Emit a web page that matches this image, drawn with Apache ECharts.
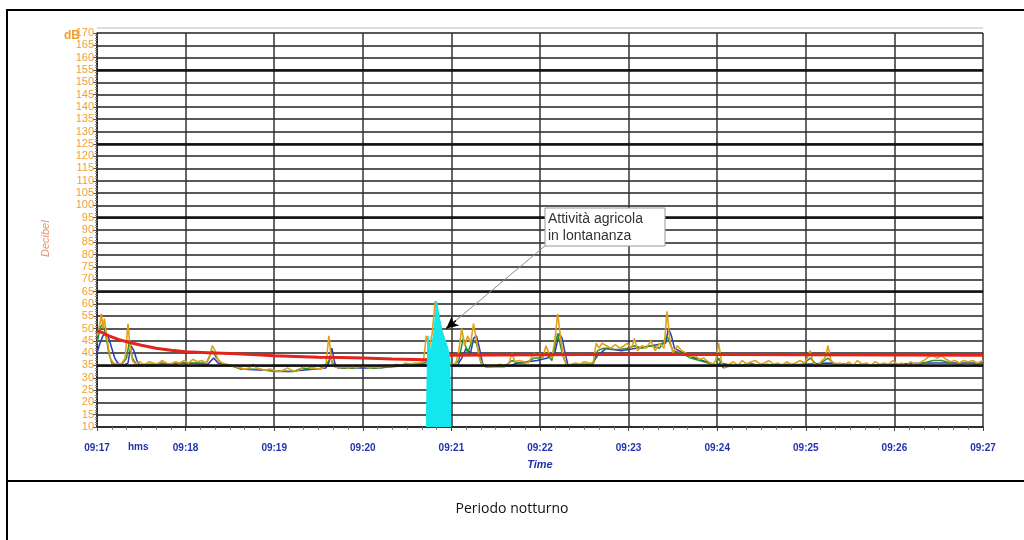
<!DOCTYPE html>
<html>
<head>
<meta charset="utf-8">
<script src="https://cdn.jsdelivr.net/npm/echarts@6/dist/echarts.min.js"></script>
<style>
html,body{margin:0;padding:0;background:#fff;}
#c{width:1024px;height:540px;}
</style>
</head>
<body>
<div id="c"></div>
<script>
// ---- data (seconds from 09:17:00, dB) ----
const timeLabels = ['09:17','09:18','09:19','09:20','09:21','09:22','09:23','09:24','09:25','09:26','09:27'];

const orangeSeries = [[0,47],[2,52],[3,56],[4,50],[5,54],[7,45],[9,38],[11,36],[14,35.5],[17,36],[19,38],[21,52],[22,45],[24,37],[26,35.5],[29,36.5],[32,35],[35,36.5],[38,36],[41,35.5],[44,37],[47,36],[50,35.5],[53,36.5],[56,36],[59,37],
[62,36],[65,37.5],[68,36.5],[71,37],[74,36],[76,38],[78,43],[80,41],[82,37],[85,36],[88,35.5],[91,35],[94,34.5],[97,34],[100,33.5],[103,34],[106,35.5],[108,34],[111,33.5],[114,33],[117,33.5],
[120,33],[123,32.5],[126,33],[129,34],[132,33],[135,32.5],[138,33.5],[141,35],[144,34],[147,34],[150,33.5],[153,34],[155,35],[157,47],[159,36],[161,34.5],[164,34],[167,34.5],[170,34],[173,34.5],[176,34],[179,35],
[182,34.5],[185,34],[188,34.5],[191,34],[194,35],[197,34.5],[200,35],[203,35.5],[206,35],[209,36],[212,35.5],[215,36],[218,36],[221,36.5],[223,47],[225,42],[227,48],[229,61],[231,55],[233,50],[235,46],[237,42],[239,36],[241,35],
[243,36],[245,41],[247,50],[249,43],[251,47],[253,44],[255,52],[257,45],[259,38],[261,35.5],[264,35],[267,34.5],[270,35],[273,35.5],[276,35],[279,36],[281,40],[283,36.5],[286,37],[289,36.5],[292,36],[294,38],[296,40],[298,39],
[300,40],[302,38],[304,43],[306,40],[308,38],[310,45],[312,56],[314,46],[316,38],[318,35],[321,35.5],[324,36],[327,35.5],[330,36.5],[333,36],[336,36],[338,44],[340,42],[342,44],[345,43],[348,42],[351,43.5],[354,42],[357,43],[359,44],
[362,42],[364,46],[366,41],[369,43],[372,42],[375,45],[378,41],[381,44],[384,42],[386,57],[388,45],[390,40],[393,43],[396,41],[399,40],[402,38.5],[405,39],[408,37.5],[411,38],[414,36.5],[417,35.5],[419,37],
[421,44],[423,36],[425,34],[428,35.5],[431,36.5],[434,35],[437,37],[440,35.5],[443,36.5],[446,37],[449,35.5],[452,36],[455,37],[458,35.5],[461,36],[464,35],[467,36.5],[470,35.5],[473,36],[476,37],[479,36],
[481,38],[483,41],[485,36],[488,35],[491,37],[493,38],[495,43],[497,37],[500,35.5],[503,36],[506,35],[509,36.5],[512,35],[515,37],[518,35.5],[521,36],[524,35],[527,36.5],[530,35.5],[533,36],[536,35.5],[539,37],
[542,35.5],[545,36],[548,35],[551,36.5],[554,35.5],[557,36],[560,37],[563,38.5],[566,39],[569,38],[572,39],[575,37.5],[578,36.5],[581,37],[584,36],[587,37],[590,36.5],[593,37],[596,36],[600,37]];

const greenSeries = [[0,44],[2,50],[4,52],[6,47],[8,40],[10,36],[13,35],[17,35.5],[20,38],[22,45],[24,38],[27,35],[32,35.5],[38,35.5],[44,36],[50,35],[56,36],[62,36],[68,36],[74,36],[78,41],[81,38],[85,35.5],[91,35],[97,33.5],[103,33.5],[109,33.5],[115,33],[121,32.5],[127,32.5],[133,32.5],[139,34],[145,33.5],[151,33.5],[156,36],[158,38],[161,34.5],[167,34],[173,34],[179,34.5],[185,34],[191,34],[197,34.5],[203,35],[209,35.5],[215,35.5],[221,36],[226,37],[235,38],[241,35],[245,37],[248,46],[251,40],[254,45],[257,44],[260,36],[264,34.5],[270,34.5],[276,34.5],[281,37],[285,36],[290,36],[296,38],[300,38],[304,40],[308,37],[312,48],[315,40],[318,35],[324,35.5],[330,35.5],[336,35.5],[339,41],[343,42],[348,41.5],[354,41.5],[359,42],[364,43],[369,42],[375,43],[381,42],[386,47],[390,41],[396,40],[402,38],[408,37],[414,36],[419,35],[421,38],[424,34],[430,35],[436,35],[442,36],[448,35],[454,35.5],[460,35],[466,35.5],[472,35],[478,35.5],[483,38],[488,35],[495,38],[500,35],[506,35],[512,35],[518,35.5],[524,35],[530,35],[536,35],[542,35],[548,35],[554,35],[560,36],[566,37],[572,37],[578,36],[584,35.5],[590,36],[596,35.5],[600,36]];

const blueSeries = [[0,40],[2,44],[4,47],[6,48],[8,46],[10,42],[12,38],[14,36],[18,35],[21,36],[23,43],[25,41],[27,37],[29,35],[40,35.5],[60,36],[75,35.5],[79,38],[82,36],[100,33.5],[130,32.5],[155,34],[157,36],[159,42],[161,36],[163,34],[190,34],[220,35.5],[244,35],[247,38],[250,42],[253,40],[255,46],[257,47],[259,42],[261,36],[263,34.5],[280,35],[285,36],[298,37],[305,38],[310,40],[313,48],[315,46],[317,40],[319,35],[335,35.5],[339,39],[345,42],[355,41],[365,42],[375,43],[385,44],[387,50],[389,47],[391,42],[400,39],[410,37],[420,35],[422,36],[430,35],[480,35.5],[495,36],[520,35],[560,36],[600,36]];

const redSeries = [[0,49],[3,48.5],[8,47],[15,45.5],[22,44.3],[30,43.2],[40,42],[50,41.2],[60,40.6],[75,40.2],[90,39.8],[105,39.4],[120,38.9],[135,38.6],[150,38.3],[165,38.2],[180,38],[200,37.6],[222,37.3],[229,37.5],[235,38.6],[240,39.1],[270,39.2],[300,39.3],[360,39.5],[420,39.4],[480,39.3],[540,39.2],[600,39.1]];

const cyanEvent = [[223,10],[224,47],[226,41],[228,48],[230,61],[232,54],[234,48],[236,45],[238,41],[239,38],[239.5,10]];

const heavyGrid = [35,65,95,125,155];
const annotation = ['Attività agricola', 'in lontananza'];
const caption = 'Periodo notturno';

// ---- chart ----
const chart = echarts.init(document.getElementById('c'), null, {renderer:'canvas'});
const narrow = "'Liberation Sans Narrow','Liberation Sans',Arial,sans-serif";
const lineSer = (data, color, w, z) => ({
  type:'line', data, showSymbol:false, symbol:'none', z,
  lineStyle:{color, width:w}, itemStyle:{color}, animation:false, silent:true
});

chart.setOption({
  animation:false,
  backgroundColor:'#fff',
  grid:{left:97, right:41, top:33, bottom:113, containLabel:false},
  xAxis:{
    type:'value', min:0, max:600, interval:60,
    name:'Time', nameLocation:'middle', nameGap:32,
    nameTextStyle:{color:'#2233aa', fontStyle:'italic', fontWeight:'bold', fontSize:11, fontFamily:"'Liberation Sans',Arial,sans-serif"},
    axisLine:{lineStyle:{color:'#222', width:1.5}},
    axisTick:{show:true, length:4, lineStyle:{color:'#444'}},
    minorTick:{show:true, splitNumber:6, length:3, lineStyle:{color:'#777'}},
    axisLabel:{formatter:v => timeLabels[Math.round(v/60)] || '', color:'#2233aa', fontWeight:'bold', fontSize:10, fontFamily:narrow, margin:16},
    splitLine:{show:true, lineStyle:{color:'#333', width:1.5}}
  },
  yAxis:{
    type:'value', min:10, max:170, interval:5,
    axisLine:{show:true, lineStyle:{color:'#222', width:1.5}},
    axisTick:{show:true, length:4, lineStyle:{color:'#555'}},
    minorTick:{show:true, splitNumber:5, length:2, lineStyle:{color:'#888'}},
    axisLabel:{color:'#f2a02a', fontSize:11, fontFamily:narrow, margin:3},
    splitLine:{show:true, lineStyle:{color:'#222', width:1.5}}
  },
  series:[
    {type:'line', data:[], silent:true, z:1,
      markLine:{silent:true, symbol:'none', label:{show:false}, animation:false,
        lineStyle:{color:'#111', width:2.6, type:'solid'},
        data: heavyGrid.map(v => ({yAxis:v}))}},
    lineSer(blueSeries, '#2b3bb5', 1.5, 2),
    lineSer(greenSeries, '#2f8f2a', 1.5, 3),
    lineSer(orangeSeries, '#e0a01c', 1.6, 4),
    lineSer(redSeries, '#e3241d', 3, 5),
    {type:'line', data:cyanEvent, showSymbol:false, symbol:'none', z:6, silent:true,
      lineStyle:{color:'#14e6ee', width:1}, areaStyle:{color:'#14e6ee', opacity:1, origin:'start'},
      markLine:{silent:true, animation:false, label:{show:false},
        data:[
          [{coord:[303.3,83.5], symbol:'none', lineStyle:{color:'#8a8a8a', width:1, type:'solid'}},
           {coord:[237,50.2], symbol:'none'}],
          [{coord:[243,53.2], symbol:'none', lineStyle:{color:'#000', width:1.5, type:'solid'}},
           {coord:[236.5,50], symbol:'arrow', symbolSize:[9,12]}]
        ]}}
  ],
  graphic:[
    {type:'rect', shape:{x:7, y:10, width:1030, height:540}, style:{fill:'none', stroke:'#000', lineWidth:2}, silent:true, z:100},
    {type:'line', shape:{x1:7, y1:481, x2:1024, y2:481}, style:{stroke:'#000', lineWidth:2}, silent:true, z:100},
    {type:'line', shape:{x1:97, y1:28, x2:983, y2:28}, style:{stroke:'#bbb', lineWidth:1}, silent:true, z:100},
    {type:'text', left:'center', top:502, style:{text:caption, font:"14px 'Open Sans','Noto Sans',sans-serif", fill:'#111'}, silent:true, z:100},
    {type:'text', x:64, y:30, style:{text:'dB', font:"bold 12px 'Liberation Sans',Arial,sans-serif", fill:'#f2a02a'}, silent:true, z:100},
    {type:'text', x:40, y:257, rotation:Math.PI/2, style:{text:'Decibel', font:"italic 11px 'Liberation Sans',Arial,sans-serif", fill:'#e8916a'}, silent:true, z:100},
    {type:'text', x:128, y:442, style:{text:'hms', font:"bold 10px "+narrow, fill:'#2233aa'}, silent:true, z:100},
    {type:'rect', shape:{x:545, y:208, width:120, height:38}, style:{fill:'#fff', stroke:'#999', lineWidth:1}, silent:true, z:100},
    {type:'text', x:548, y:211, style:{text:annotation.join('\n'), font:"14px 'Liberation Sans',Arial,sans-serif", lineHeight:17, fill:'#333'}, silent:true, z:101}
  ]
});
</script>
</body>
</html>
